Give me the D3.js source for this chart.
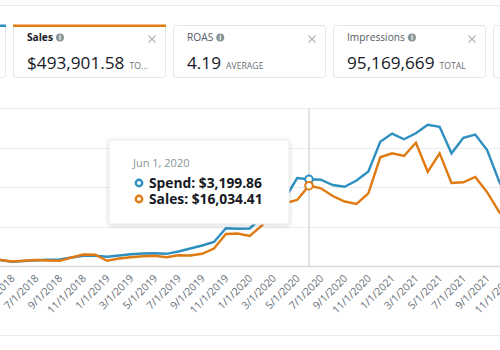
<!DOCTYPE html>
<html>
<head>
<meta charset="utf-8">
<script src="https://cdn.jsdelivr.net/npm/d3@7"></script>
<style>
  html, body { margin: 0; padding: 0; background: #fff; }
  svg { display: block; font-family: "Open Sans", sans-serif; }
</style>
</head>
<body>
<svg id="chart" width="500" height="350"></svg>
<script>
// ---- data ----
const months = [
  "3/1/2018","4/1/2018","5/1/2018","6/1/2018","7/1/2018","8/1/2018","9/1/2018","10/1/2018","11/1/2018","12/1/2018",
  "1/1/2019","2/1/2019","3/1/2019","4/1/2019","5/1/2019","6/1/2019","7/1/2019","8/1/2019","9/1/2019","10/1/2019","11/1/2019","12/1/2019",
  "1/1/2020","2/1/2020","3/1/2020","4/1/2020","5/1/2020","6/1/2020","7/1/2020","8/1/2020","9/1/2020","10/1/2020","11/1/2020","12/1/2020",
  "1/1/2021","2/1/2021","3/1/2021","4/1/2021","5/1/2021","6/1/2021","7/1/2021","8/1/2021","9/1/2021","10/1/2021","11/1/2021"
];
const spend = [
  240,221,159,185,210,229,240,314,376,380,
  339,387,435,461,472,450,535,646,756,886,1391,1376,
  1384,1771,2251,2509,3247,3199.86,3185,2989,2926,3155,3487,4587,
  4886,4679,4897,5210,5140,4159,4734,4849,4280,3137,2251
];
const sales = [
  1298,1198,899,1038,1198,1098,1038,1697,2297,2257,
  1058,1498,1757,1937,2037,1737,2137,2097,2436,3495,6390,6490,
  5991,7988,10784,12581,13180,16034.41,15517,13979,12881,12381,14518,21707,
  22506,21967,24623,18812,22506,16575,16715,17773,14738,10844,8188
];
const tickLabels = [
  "3/1/2018","5/1/2018","7/1/2018","9/1/2018","11/1/2018",
  "1/1/2019","3/1/2019","5/1/2019","7/1/2019","9/1/2019","11/1/2019",
  "1/1/2020","3/1/2020","5/1/2020","7/1/2020","9/1/2020","11/1/2020",
  "1/1/2021","3/1/2021","5/1/2021","7/1/2021","9/1/2021","11/1/2021"
];
const cardTitles = ["", "Sales", "ROAS", "Impressions", ""];
const cardValues = ["", "$493,901.58", "4.19", "95,169,669", ""];
const cardUnits  = ["", "TO...", "AVERAGE", "TOTAL", ""];
const hoverMonth = "6/1/2020";
const hoverLabel = "Jun 1, 2020";
const spendMax = 5831, salesMax = 31550;

// ---- styles ----
const BLUE = "#2e8fc0", ORANGE = "#e07a12";
const svg = d3.select("#chart");

const defs = svg.append("defs");
const f = defs.append("filter").attr("id", "shadow").attr("x", "-20%").attr("y", "-20%").attr("width", "140%").attr("height", "150%");
f.append("feDropShadow").attr("dx", 0).attr("dy", 1).attr("stdDeviation", 2).attr("flood-color", "#000").attr("flood-opacity", 0.18);

// separators
svg.append("line").attr("x1", 0).attr("x2", 500).attr("y1", 5.5).attr("y2", 5.5).attr("stroke", "#eaeded");
svg.append("line").attr("x1", 0).attr("x2", 500).attr("y1", 335.5).attr("y2", 335.5).attr("stroke", "#eaeded");

// ---- cards ----
const cardX = d3.scaleLinear().domain([0, 1]).range([-147, 13]);
const cardW = 152, cardTop = 25, cardH = 52;
const topColors = [BLUE, ORANGE, null, null, null];
cardTitles.forEach((t, i) => {
  const x0 = cardX(i);
  const g = svg.append("g").attr("transform", `translate(${x0},0)`);
  g.append("rect").attr("x", 0.5).attr("y", cardTop + 0.5).attr("width", cardW).attr("height", cardH)
    .attr("rx", 3).attr("fill", "#fff").attr("stroke", "#e3e6e6");
  if (topColors[i]) {
    g.append("rect").attr("x", 0).attr("y", cardTop - 0.5).attr("width", cardW + 1).attr("height", 2.5)
      .attr("fill", topColors[i]);
  }
  if (!t) return;
  const title = g.append("text").attr("x", 14).attr("y", 40.5).text(t)
    .attr("font-size", 10.2).attr("fill", i === 1 ? "#16191f" : "#545b64")
    .attr("font-weight", i === 1 ? 700 : 400);
  const tw = title.node().getComputedTextLength();
  const ic = g.append("g").attr("transform", `translate(${14 + tw + 7},37.5)`);
  ic.append("circle").attr("r", 4).attr("fill", "#879596");
  ic.append("text").attr("y", 2.6).attr("text-anchor", "middle").attr("font-size", 6.5).attr("font-weight", 700)
    .attr("fill", "#fff").text("i");
  const cx = 139, cy = 39, s = 3.5;
  g.append("path").attr("d", `M${cx - s},${cy - s}L${cx + s},${cy + s}M${cx + s},${cy - s}L${cx - s},${cy + s}`)
    .attr("stroke", "#aab7b8").attr("stroke-width", 1.1);
  if (cardValues[i]) {
    const v = g.append("text").attr("x", 14).attr("y", 69).text(cardValues[i])
      .attr("font-size", 17.2).attr("fill", "#16191f");
    const vw = v.node().getComputedTextLength();
    g.append("text").attr("x", 14 + vw + 5).attr("y", 69).text(cardUnits[i])
      .attr("font-size", 8.7).attr("fill", "#687078");
  }
});

// ---- chart ----
const x = d3.scalePoint().domain(months).range([-11.625, 510.875]);
const ySpend = d3.scaleLinear().domain([0, spendMax]).range([266, 108]);
const ySales = d3.scaleLinear().domain([0, salesMax]).range([266, 108]);

// gridlines
const grid = svg.append("g");
[0.25, 0.5, 0.75, 1].forEach(k => {
  const yy = Math.round(ySpend(spendMax * k)) + 0.5;
  grid.append("line").attr("x1", 0).attr("x2", 500).attr("y1", yy).attr("y2", yy).attr("stroke", "#eaeded");
});

// crosshair
const hx = x(hoverMonth);
svg.append("line").attr("x1", hx).attr("x2", hx).attr("y1", 108).attr("y2", 266)
  .attr("stroke", "#d5dbdb").attr("stroke-width", 1.5);

// x axis
const axis = svg.append("g").attr("transform", "translate(0,266)")
  .call(d3.axisBottom(x).tickValues(tickLabels).tickSize(0));
axis.select(".domain").attr("stroke", "#d5dbdb").attr("stroke-width", 1.3).attr("d", "M0,0.5H500");
axis.selectAll("text")
  .attr("x", 0).attr("y", 0).attr("dy", 0)
  .attr("transform", "translate(3,13) rotate(-45)")
  .attr("text-anchor", "end")
  .attr("font-family", "Open Sans, sans-serif")
  .attr("font-size", 10.5)
  .attr("fill", "#687078");

// lines
const idx = d3.range(months.length);
const lineSpend = d3.line().x(i => x(months[i])).y(i => ySpend(spend[i]));
const lineSales = d3.line().x(i => x(months[i])).y(i => ySales(sales[i]));
svg.append("path").attr("d", lineSpend(idx)).attr("fill", "none").attr("stroke", BLUE).attr("stroke-width", 2.4);
svg.append("path").attr("d", lineSales(idx)).attr("fill", "none").attr("stroke", ORANGE).attr("stroke-width", 2.4);

// hover points
const hi = months.indexOf(hoverMonth);
svg.append("circle").attr("cx", hx).attr("cy", ySpend(spend[hi])).attr("r", 3.8)
  .attr("fill", "#fff").attr("stroke", BLUE).attr("stroke-width", 2);
svg.append("circle").attr("cx", hx).attr("cy", ySales(sales[hi])).attr("r", 3.8)
  .attr("fill", "#fff").attr("stroke", ORANGE).attr("stroke-width", 2);

// tooltip
const fmt = d3.format("$,.2f");
const tt = svg.append("g").attr("transform", `translate(${hx - 200},140)`);
tt.append("rect").attr("x", 0).attr("y", 0).attr("width", 180).attr("height", 84).attr("rx", 2)
  .attr("fill", "#fff").attr("stroke", "#eaeded").attr("filter", "url(#shadow)");
tt.append("text").attr("x", 24).attr("y", 27).attr("font-size", 11).attr("fill", "#879596").text(hoverLabel);
[["Spend", spend[hi], BLUE, 43], ["Sales", sales[hi], ORANGE, 59]].forEach(([n, v, c, yy]) => {
  tt.append("circle").attr("cx", 30).attr("cy", yy).attr("r", 3.2).attr("fill", "#fff")
    .attr("stroke", c).attr("stroke-width", 2.4);
  tt.append("text").attr("x", 40).attr("y", yy + 4.8).attr("font-size", 13.8).attr("font-weight", 700)
    .attr("fill", "#16191f").text(`${n}: ${fmt(v)}`);
});
</script>
</body>
</html>
